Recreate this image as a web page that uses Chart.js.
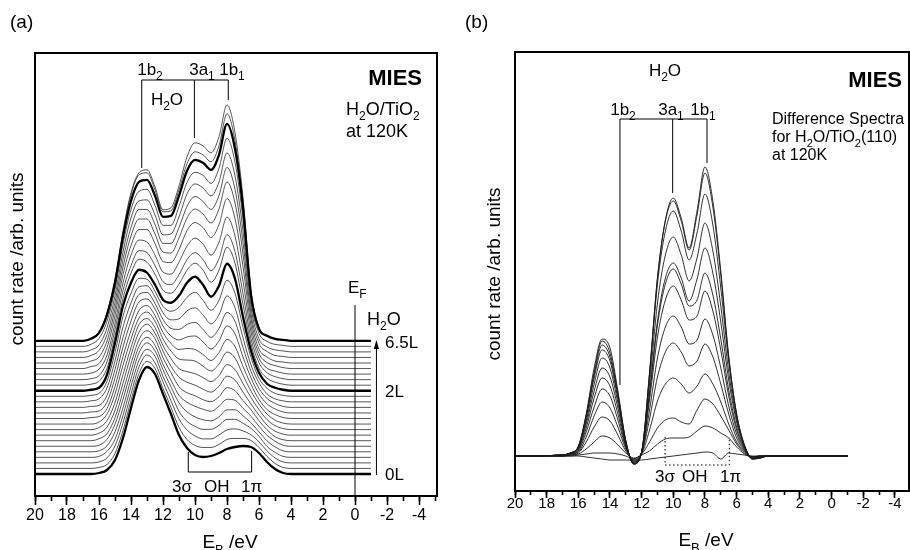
<!DOCTYPE html>
<html>
<head>
<meta charset="utf-8">
<title>MIES H2O/TiO2</title>
<script src="https://cdn.jsdelivr.net/npm/chart.js@4.4.1/dist/chart.umd.min.js"></script>
<style>
  html, body { margin: 0; padding: 0; background: #fff; }
  #wrap { position: relative; width: 910px; height: 550px; overflow: hidden; }
  canvas { position: absolute; top: 0; }
  #chartA { left: 0; }
  #chartB { left: 455px; }
</style>
</head>
<body>
<div id="wrap">
  <canvas id="chartA" width="455" height="550"></canvas>
  <canvas id="chartB" width="455" height="550"></canvas>
</div>
<script>
// binding energy grid (eV), shared by both panels
const energyEV = [20, 17, 16.5, 16, 15.5, 15, 14.5, 14, 13.5, 13, 12.5, 12, 11.5, 11, 10.5, 10, 9.5, 9, 8.5, 8, 7.5, 7, 6.5, 6, 5.5, 5, 4.5, 4, -1];

// (a) MIES spectra, 0 L (first) up to 6.5 L H2O; count rate above each curve's own baseline
const spectraA = [
  [0,0,0,1,4,14,36,66,94,107,100,80,60,39,26,19,17,18,21,25,27,28,27,21,12,5,1,0,0],
  [0,0,0,1,4,15,38,68,95,107,100,80,61,41,29,23,21,21,24,29,30,30,28,21,12,5,1,0,0],
  [0,0,0,1,5,17,40,69,96,108,100,81,62,44,33,27,24,24,28,33,34,32,28,21,12,5,1,0,0],
  [0,0,0,1,6,18,42,71,97,108,101,81,64,46,36,31,28,28,32,38,38,34,29,21,11,5,1,0,0],
  [0,0,0,1,6,20,44,73,99,109,101,82,65,49,40,35,32,31,35,42,42,36,29,20,11,5,1,0,0],
  [0,0,0,1,7,22,47,75,100,109,101,82,66,51,44,40,37,35,40,47,46,38,30,20,11,5,1,0,0],
  [0,0,0,2,7,23,49,77,101,110,102,83,68,54,48,45,41,39,44,53,50,40,31,20,11,4,1,0,0],
  [0,0,0,2,8,25,52,80,103,111,102,84,69,58,53,50,46,43,49,59,55,43,31,20,10,4,1,0,0],
  [0,0,0,2,9,27,55,82,105,111,102,84,71,61,58,56,52,48,54,65,60,46,32,20,10,4,1,0,0],
  [0,0,0,2,10,30,59,85,106,112,103,85,73,65,64,63,58,53,60,72,66,49,33,20,10,4,1,0,0],
  [0,0,1,2,10,32,62,88,108,113,103,86,75,69,70,69,64,58,66,79,72,52,34,19,9,4,1,0,0],
  [0,0,1,2,11,35,66,92,111,114,104,87,77,73,76,77,71,64,72,87,79,56,35,19,9,4,1,0,0],
  [0,0,1,2,12,38,70,95,113,115,104,88,79,78,83,85,78,70,79,95,86,60,36,19,9,4,1,0,0],
  [0,0,1,3,14,41,75,99,115,116,105,89,82,83,91,94,87,78,87,106,94,64,37,19,8,3,1,0,0],
  [0,0,1,3,15,44,80,103,118,117,105,90,85,89,99,104,96,86,96,116,103,69,39,18,8,3,1,0,0],
  [0,0,1,3,16,48,85,108,121,118,106,91,88,95,108,114,106,94,105,127,112,74,40,18,7,3,1,0,0],
  [0,0,1,4,17,49,87,112,126,123,111,95,92,101,115,122,115,103,115,138,122,81,41,17,7,3,1,0,0],
  [0,0,1,4,18,50,89,114,129,127,114,98,95,105,120,127,120,109,121,145,128,86,41,17,7,3,1,0,0],
  [0,0,1,5,19,51,91,119,134,132,119,102,100,112,128,136,130,119,132,157,138,93,42,16,6,3,1,0,0],
  [0,0,2,5,21,53,94,123,139,139,125,107,106,119,138,146,141,131,144,170,150,102,43,15,6,3,1,0,0],
  [0,0,2,6,22,54,96,127,144,144,129,111,110,125,145,154,149,140,154,181,160,109,44,14,6,2,1,0,0],
  [0,0,2,7,23,55,98,130,148,148,133,114,114,130,151,161,156,148,162,190,168,115,44,14,6,2,1,0,0],
  [0,0,2,7,24,56,100,134,151,152,137,117,118,135,158,168,164,156,170,199,176,121,45,13,5,2,1,0,0],
  [0,0,2,8,25,57,102,137,155,157,141,121,121,140,164,174,171,163,178,208,184,127,45,13,5,2,1,0,0],
  [0,0,2,8,26,58,104,140,159,161,145,124,125,145,170,181,178,171,186,217,192,133,46,12,5,2,1,0,0],
  [0,0,2,8,27,60,108,146,166,168,151,129,130,151,177,189,186,179,195,227,200,138,48,13,5,2,1,0,0],
  [0,0,2,9,28,62,110,148,168,171,154,131,133,155,184,198,195,188,204,236,208,143,50,13,5,2,1,0,0]
];
const boldA = [0, 15, 24];          // 0 L, 2 L and 6.5 L drawn heavy
const lastBaseA = 24;               // spectra past 6.5 L sit on the 6.5 L baseline
const exposureLabels = ['0L', '2L', '6.5L'];

// (b) difference spectra, smallest to largest
const spectraB = [
  [0,0,0,0,-1,-2,-3,-4,-4,-4,-4,-4,-3,-2,-1,0,1,2,3,4,3,-3,3,2,1,0,0,0,0],
  [0,0,0,1,2,3,3,3,2,0,-3,1,5,12,17,18,18,19,25,30,28,23,18,9,2,-1,0,0,0],
  [0,0,1,2,7,14,20,18,11,3,-2,2,14,28,36,38,34,32,46,57,52,40,26,12,3,-1,0,0,0],
  [0,0,1,3,14,29,39,35,21,5,-3,2,26,55,72,78,72,63,70,82,72,54,32,14,4,-1,0,0,0],
  [0,0,2,4,19,40,54,48,29,7,-4,3,37,79,104,113,104,90,95,112,99,72,42,18,5,-1,0,0,0],
  [0,1,2,5,24,49,67,60,36,9,-5,3,46,98,129,140,129,112,116,137,121,88,50,22,6,-1,-1,0,0],
  [0,1,2,6,28,58,78,70,42,10,-6,3,56,119,156,170,156,136,140,165,145,106,60,26,7,-2,-1,0,0],
  [0,1,3,7,32,65,88,79,48,12,-6,4,62,131,172,187,172,150,156,183,161,117,66,29,8,-2,-1,0,0],
  [0,1,3,8,35,72,98,88,53,13,-7,4,64,135,178,193,178,155,177,208,183,134,76,34,9,-2,-1,0,0],
  [0,1,3,9,38,78,106,95,57,14,-7,4,72,153,201,219,201,175,198,233,205,150,84,37,10,-2,-1,0,0],
  [0,1,3,9,40,81,111,99,60,15,-8,4,81,172,225,245,225,196,223,262,231,168,94,40,10,-3,-2,0,0],
  [0,1,3,9,41,84,115,103,62,15,-8,4,84,178,235,255,235,206,241,283,249,181,99,42,11,-3,-2,0,0],
  [0,1,3,10,42,88,117,108,65,15,-8,4,82,178,236,258,238,208,245,289,255,185,100,42,10,-3,-2,0,0]
];

const SANS = '"Liberation Sans", Arial, Helvetica, sans-serif';
const NARROW = '"Liberation Sans Narrow", "Liberation Sans", Arial, sans-serif';
const STEP_A = 5.55;   // vertical offset between successive spectra in (a)

// text with ~subscript~ parts
function rich(ctx, str, x, y, size, align, bold) {
  const segs = str.split('~').map((t, i) => ({ t, sub: i % 2 === 1 })).filter(s => s.t);
  const fnt = s => (bold ? 'bold ' : '') + (s.sub ? Math.round(size * 0.68) : size) + 'px ' + SANS;
  let w = 0;
  segs.forEach(s => { ctx.font = fnt(s); s.w = ctx.measureText(s.t).width; w += s.w; });
  let cx = align === 'left' ? x : align === 'right' ? x - w : x - w / 2;
  ctx.textAlign = 'left';
  ctx.textBaseline = 'alphabetic';
  ctx.fillStyle = '#000';
  segs.forEach(s => {
    ctx.font = fnt(s);
    ctx.fillText(s.t, cx, s.sub ? y + size * 0.3 : y);
    cx += s.w;
  });
}

function poly(ctx, pts) {
  ctx.beginPath();
  pts.forEach((p, i) => i ? ctx.lineTo(p[0], p[1]) : ctx.moveTo(p[0], p[1]));
  ctx.stroke();
}

function yTitle(ctx, cx, cy, size) {
  ctx.save();
  ctx.translate(cx, cy);
  ctx.rotate(-Math.PI / 2);
  ctx.font = size + 'px ' + SANS;
  ctx.fillStyle = '#000';
  ctx.textAlign = 'center';
  ctx.textBaseline = 'middle';
  ctx.fillText('count rate /arb. units', 0, 0);
  ctx.restore();
}

function makeSets(spectra, step, boldIdx, lastBase, thinColor) {
  return spectra.map((h, i) => {
    const base = Math.min(i, lastBase) * step;
    const bold = boldIdx.includes(i);
    return {
      data: energyEV.map((e, k) => ({ x: e, y: base + h[k] })),
      xAxisID: 'x',
      yAxisID: 'y',
      borderColor: bold ? '#000' : thinColor,
      borderWidth: bold ? 2.3 : 0.9,
      order: bold ? 0 : 1,
      pointRadius: 0,
      fill: false,
      cubicInterpolationMode: 'monotone'
    };
  });
}

function xAxes(xmin, axisH, major, minor, fontSize, pad) {
  return {
    x: {
      type: 'linear', position: 'bottom', reverse: true, min: xmin, max: 20, weight: 1,
      afterFit: s => { s.height = axisH; },
      border: { display: false },
      grid: { drawOnChartArea: false, tickLength: major, tickWidth: 1.6, tickColor: '#000' },
      ticks: { stepSize: 2, includeBounds: false, autoSkip: false, maxRotation: 0,
               color: '#000', padding: pad, font: { family: NARROW, size: fontSize } }
    },
    xMinor: {
      type: 'linear', position: 'bottom', reverse: true, min: xmin, max: 20, weight: 0,
      afterFit: s => { s.height = 0; },
      border: { display: false },
      grid: { drawOnChartArea: false, tickLength: minor, tickWidth: 1.6, tickColor: '#000' },
      ticks: { stepSize: 1, includeBounds: false, display: false }
    }
  };
}

const panelA = {
  id: 'panelA',
  afterDraw(chart) {
    const { ctx, chartArea: a, scales: { x, y } } = chart;
    const X = v => x.getPixelForValue(v), Y = v => y.getPixelForValue(v);
    ctx.save();
    ctx.strokeStyle = '#000';
    ctx.lineWidth = 2;
    ctx.strokeRect(a.left, a.top, a.right - a.left, a.bottom - a.top);

    ctx.lineWidth = 1;
    // H2O orbital bracket
    poly(ctx, [[X(13.33), Y(306)], [X(13.33), Y(394)], [X(7.92), Y(394)], [X(7.92), Y(374)]]);
    poly(ctx, [[X(10.04), Y(394)], [X(10.04), Y(336)]]);
    // OH bracket
    poly(ctx, [[X(10.42), Y(22)], [X(10.42), Y(2)], [X(6.46), Y(2)], [X(6.46), Y(23)]]);
    // Fermi level
    poly(ctx, [[X(0), Y(169)], [X(0), a.bottom]]);
    // exposure arrow
    const xa = X(-1.34);
    poly(ctx, [[xa, Y(-1)], [xa, Y(127)]]);
    ctx.fillStyle = '#000';
    ctx.beginPath();
    ctx.moveTo(xa, Y(134));
    ctx.lineTo(xa - 2.6, Y(125));
    ctx.lineTo(xa + 2.6, Y(125));
    ctx.closePath();
    ctx.fill();

    rich(ctx, '(a)', 10, 28, 19, 'left');
    rich(ctx, '1b~2~', 150, 75, 17, 'center');
    rich(ctx, '3a~1~', 202, 75, 17, 'center');
    rich(ctx, '1b~1~', 232, 75, 17, 'center');
    rich(ctx, 'H~2~O', 167, 105, 17, 'center');
    rich(ctx, 'MIES', 422, 85, 22, 'right', true);
    rich(ctx, 'H~2~O/TiO~2~', 346, 115, 18, 'left');
    rich(ctx, 'at 120K', 346, 137, 18, 'left');
    rich(ctx, 'E~F~', 348, 293, 17, 'left');
    rich(ctx, 'H~2~O', 367, 325, 18, 'left');
    const exposureY = [480, 397, 348];
    exposureLabels.forEach((t, i) => rich(ctx, t, 385, exposureY[i], 17, 'left'));
    rich(ctx, '3σ', 172, 492, 17, 'left');
    rich(ctx, 'OH', 204, 492, 17, 'left');
    rich(ctx, '1π', 241, 492, 17, 'left');
    rich(ctx, 'E~B~ /eV', 230, 548, 19, 'center');
    yTitle(ctx, 18, 259, 19);
    ctx.restore();
  }
};

const panelB = {
  id: 'panelB',
  afterDraw(chart) {
    const { ctx, chartArea: a, scales: { x, y } } = chart;
    const X = v => x.getPixelForValue(v), Y = v => y.getPixelForValue(v);
    ctx.save();
    ctx.strokeStyle = '#000';
    ctx.lineWidth = 2;
    ctx.strokeRect(a.left, a.top, a.right - a.left, a.bottom - a.top);

    ctx.lineWidth = 1;
    // H2O orbital bracket
    poly(ctx, [[X(13.37), Y(71)], [X(13.37), Y(337)], [X(7.87), Y(337)], [X(7.87), Y(293)]]);
    poly(ctx, [[X(10.04), Y(337)], [X(10.04), Y(263)]]);
    // OH bracket, dotted
    ctx.setLineDash([1.5, 2.5]);
    poly(ctx, [[X(10.52), Y(19)], [X(10.52), Y(-9)], [X(6.46), Y(-9)], [X(6.46), Y(19)]]);
    ctx.setLineDash([]);

    rich(ctx, '(b)', 10, 28, 19, 'left');
    rich(ctx, 'H~2~O', 210, 76, 17, 'center');
    rich(ctx, '1b~2~', 168, 115, 17, 'center');
    rich(ctx, '3a~1~', 216, 115, 17, 'center');
    rich(ctx, '1b~1~', 248, 115, 17, 'center');
    rich(ctx, 'MIES', 447, 87, 22, 'right', true);
    rich(ctx, 'Difference Spectra', 317, 124, 16, 'left');
    rich(ctx, 'for H~2~O/TiO~2~(110)', 317, 142, 16, 'left');
    rich(ctx, 'at 120K', 317, 160, 16, 'left');
    rich(ctx, '3σ', 200, 482, 17, 'left');
    rich(ctx, 'OH', 227, 482, 17, 'left');
    rich(ctx, '1π', 265, 482, 17, 'left');
    rich(ctx, 'E~B~ /eV', 251, 546, 19, 'center');
    yTitle(ctx, 40, 274, 19);
    ctx.restore();
  }
};

function baseOptions(pad, scales) {
  return {
    responsive: false,
    animation: false,
    devicePixelRatio: 1,
    layout: { padding: pad },
    plugins: { legend: { display: false }, tooltip: { enabled: false } },
    scales
  };
}

new Chart(document.getElementById('chartA'), {
  type: 'line',
  data: { datasets: makeSets(spectraA, STEP_A, boldA, lastBaseA, '#444') },
  options: baseOptions({ left: 35, right: 18, top: 53, bottom: 0 },
    Object.assign(xAxes(-5.125, 54, 9, 5, 16, 1), { y: { display: false, min: -22, max: 421 } })),
  plugins: [panelA]
});

new Chart(document.getElementById('chartB'), {
  type: 'line',
  data: { datasets: makeSets(spectraB, 0, [], 0, '#1a1a1a') },
  options: baseOptions({ left: 60, right: 1, top: 52, bottom: 0 },
    Object.assign(xAxes(-4.89, 59, 7, 4, 15, -3), { y: { display: false, min: -35, max: 404 } })),
  plugins: [panelB]
});
</script>
</body>
</html>
